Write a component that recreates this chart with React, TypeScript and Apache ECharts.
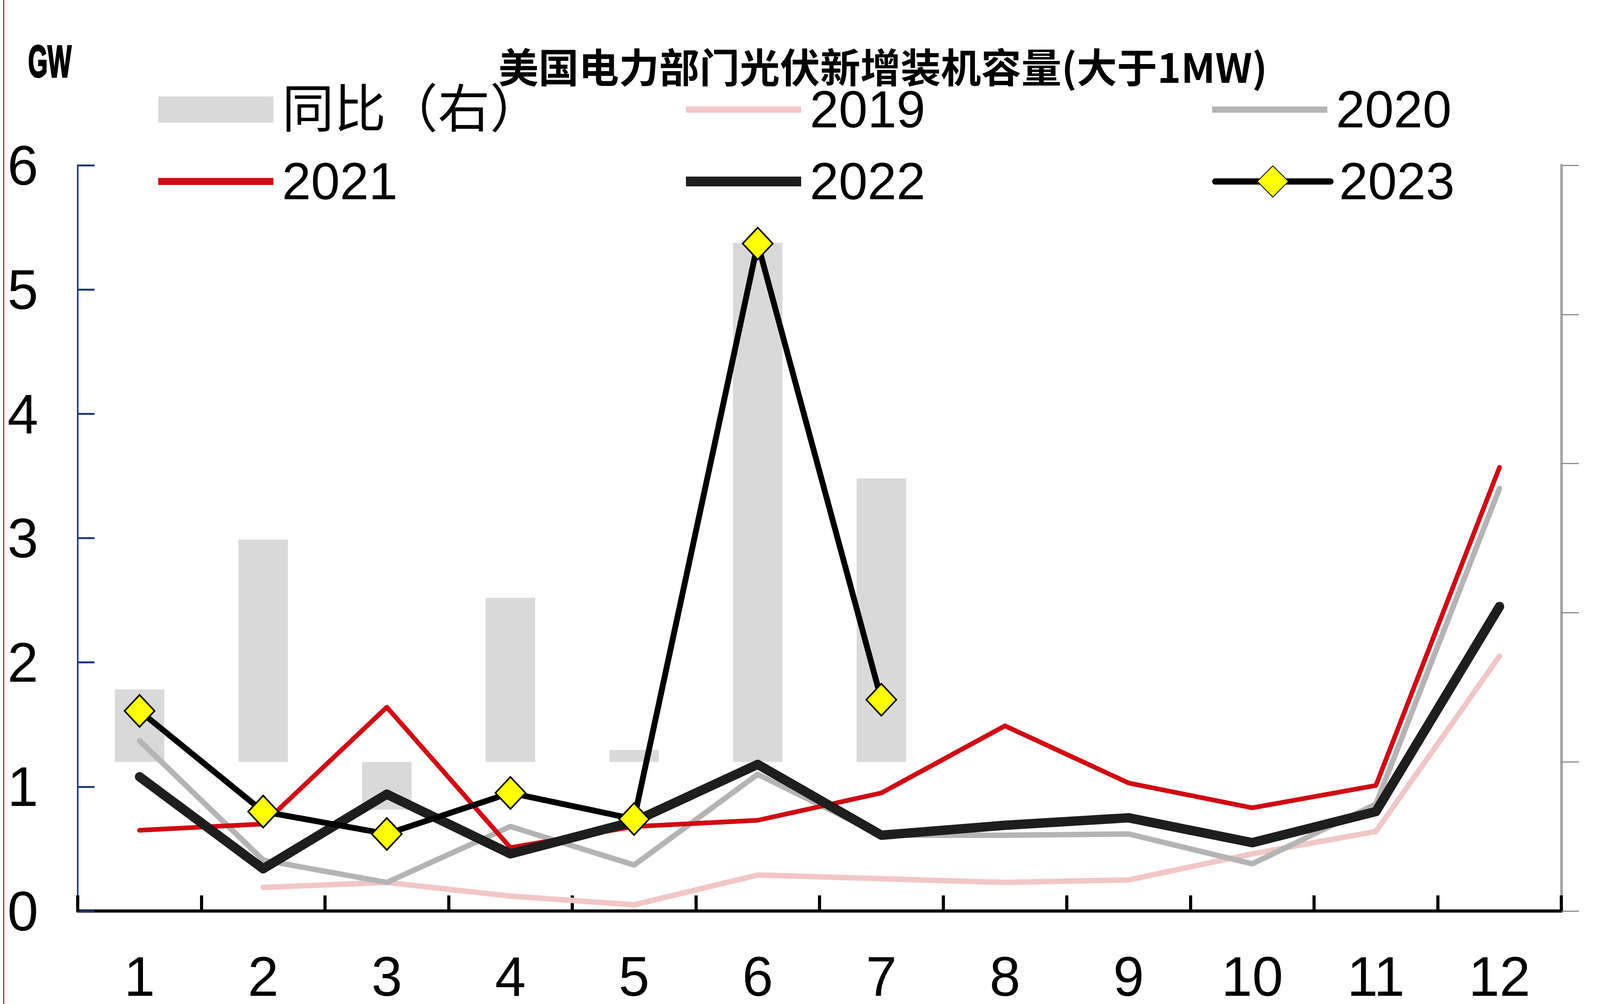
import React, { useEffect, useRef } from "react";
import * as echarts from "echarts";

const months = ["1", "2", "3", "4", "5", "6", "7", "8", "9", "10", "11", "12"];
const yoy = [48.6, 149, -32, 110, 8, 348, 190, null, null, null, null, null];
const s2019 = [null, 0.19, 0.23, 0.12, 0.05, 0.29, 0.26, 0.23, 0.25, 0.46, 0.64, 2.05];
const s2020 = [1.37, 0.41, 0.23, 0.68, 0.37, 1.1, 0.61, 0.61, 0.62, 0.38, 0.86, 3.4];
const s2021 = [0.65, 0.7, 1.64, 0.51, 0.68, 0.73, 0.95, 1.49, 1.03, 0.83, 1.01, 3.57];
const s2022 = [1.08, 0.34, 0.94, 0.46, 0.72, 1.18, 0.61, 0.69, 0.75, 0.55, 0.8, 2.45];
const s2023 = [1.61, 0.8, 0.62, 0.95, 0.74, 5.37, 1.7, null, null, null, null, null];
const leftTicks = { min: 0, max: 6, interval: 1 };
const rightTicks = { min: -100, max: 400, interval: 100 };

const TITLE = "美国电力部门光伏新增装机容量(大于1MW)";
const UNIT = "GW";

const LATIN = '"Liberation Sans", Arial, "Noto Sans CJK SC", sans-serif';
const CJK = '"Noto Sans CJK SC", "Liberation Sans", sans-serif';

// reference design size
const REF_W = 4386;
const REF_H = 2570;

export default function App() {
  const ref = useRef<HTMLDivElement>(null);
  useEffect(() => {
    if (!ref.current) return;
    const chart = echarts.init(ref.current, null, { renderer: "svg" });
    const W = ref.current.clientWidth || REF_W;
    const kx = W / REF_W;
    const X = (v: number) => Math.round(v * kx);

    const legendBase = (name: string, left: number, top: number, itemHeight: number, icon?: string) => ({
      data: [icon ? { name, icon } : { name }],
      left: X(left),
      top,
      padding: 0,
      itemWidth: X(316),
      itemHeight,
      itemGap: 0,
      selectedMode: false,
      textStyle: { fontSize: 133, color: "#000", fontFamily: LATIN, padding: [0, 0, 0, X(18)] },
    });

    const row1 = 281 - 67;
    const row2 = 465 - 67;

    chart.setOption({
      animation: false,
      backgroundColor: "#fff",
      title: {
        text: TITLE,
        left: X(2420),
        top: 116,
        textAlign: "center",
        padding: 0,
        textStyle: { fontSize: 103, fontWeight: "bold", fontFamily: CJK, color: "#000" },
      },
      legend: [
        legendBase("同比（右）", 434, row1, 67, "rect"),
        legendBase("2019", 1880, row1, 16, "rect"),
        legendBase("2020", 3323, row1, 16, "rect"),
        legendBase("2021", 434, row2, 18, "rect"),
        legendBase("2022", 1880, row2, 25, "rect"),
        { ...legendBase("2023", 3323, row2, 100), lineStyle: { width: 16 } },
      ],
      graphic: [
        { type: "rect", shape: { x: X(9), y: 0, width: 3, height: REF_H }, style: { fill: "#c0282d" }, silent: true },
        {
          type: "text",
          x: X(77),
          y: 100,
          scaleX: 0.6 * kx,
          style: {
            text: UNIT,
            fontSize: 115,
            fontWeight: "bold",
            fontFamily: "Liberation Sans",
            fill: "#000",
            stroke: "#000",
            lineWidth: 4,
          },
          silent: true,
        },
      ],
      grid: { left: X(213), right: X(106), top: 423, bottom: 215, containLabel: false },
      xAxis: {
        type: "category",
        data: months,
        boundaryGap: true,
        axisLine: { lineStyle: { color: "#000", width: 8 } },
        axisTick: { show: true, inside: true, length: 40, lineStyle: { color: "#000", width: 8 } },
        axisLabel: { fontSize: 142, color: "#000", margin: 96, interval: 0, fontFamily: LATIN },
        splitLine: { show: false },
      },
      yAxis: [
        {
          type: "value",
          ...leftTicks,
          axisLine: { show: true, lineStyle: { color: "#1f3a7a", width: 4 } },
          axisTick: { show: true, inside: true, length: X(46), lineStyle: { color: "#1f3a7a", width: 5 } },
          axisLabel: { fontSize: 142, color: "#000", margin: X(108), fontFamily: LATIN },
          splitLine: { show: false },
        },
        {
          type: "value",
          position: "right",
          ...rightTicks,
          axisLine: { show: true, lineStyle: { color: "#a6a6a6", width: 7 } },
          axisTick: { show: true, inside: false, length: X(48), lineStyle: { color: "#8c8c8c", width: 3 } },
          axisLabel: { show: false },
          splitLine: { show: false },
        },
      ],
      series: [
        {
          name: "同比（右）",
          type: "bar",
          yAxisIndex: 1,
          data: yoy,
          barWidth: "40%",
          itemStyle: { color: "#d9d9d9" },
        },
        {
          name: "2019",
          type: "line",
          data: s2019,
          symbol: "none",
          color: "#f2c6c6",
          lineStyle: { color: "#f2c6c6", width: 14, cap: "round", join: "round" },
        },
        {
          name: "2020",
          type: "line",
          data: s2020,
          symbol: "none",
          color: "#b4b4b4",
          lineStyle: { color: "#b4b4b4", width: 14, cap: "round", join: "round" },
        },
        {
          name: "2021",
          type: "line",
          data: s2021,
          symbol: "none",
          color: "#d00a14",
          lineStyle: { color: "#d00a14", width: 12, cap: "round", join: "round" },
        },
        {
          name: "2022",
          type: "line",
          data: s2022,
          symbol: "none",
          color: "#1e1e1e",
          lineStyle: { color: "#1e1e1e", width: 24, cap: "round", join: "round" },
        },
        {
          name: "2023",
          type: "line",
          data: s2023,
          symbol: "diamond",
          symbolSize: [X(82), 82],
          itemStyle: { color: "#ffff00", borderColor: "#000", borderWidth: 4 },
          lineStyle: { color: "#000", width: 15, cap: "round", join: "round" },
        },
      ],
    });
    return () => chart.dispose();
  }, []);

  return (
    <div
      ref={ref}
      style={{ position: "fixed", left: 0, top: 0, width: "100vw", height: REF_H, background: "#fff" }}
    />
  );
}
